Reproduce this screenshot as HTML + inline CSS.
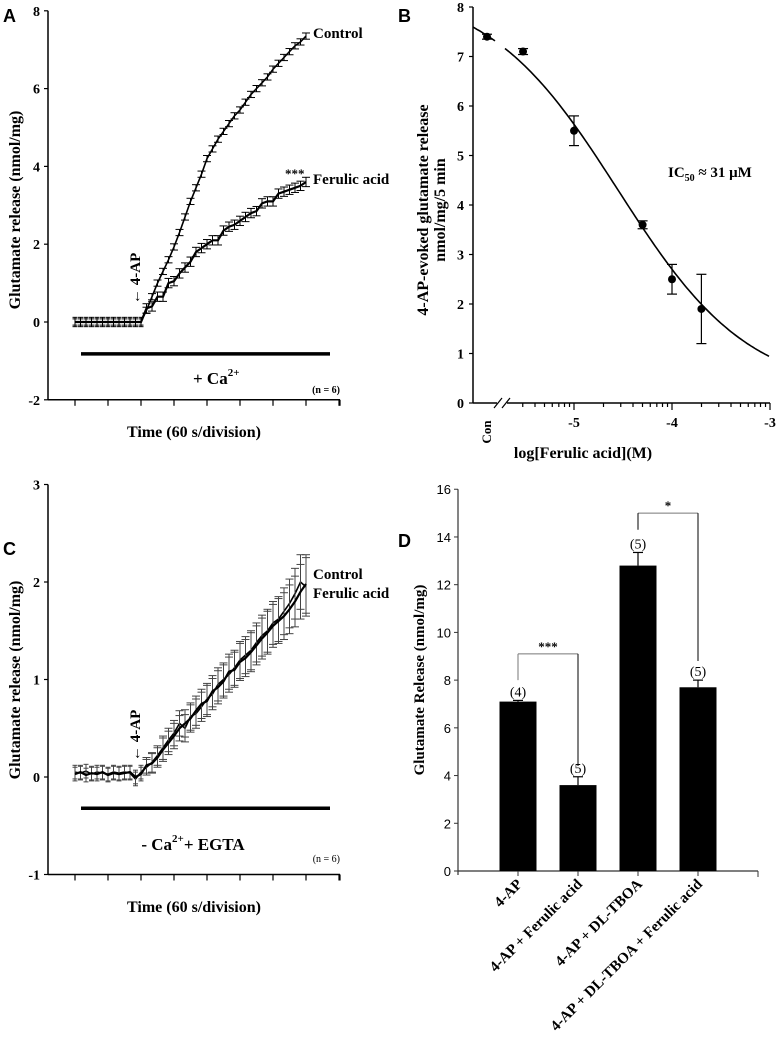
<!DOCTYPE html>
<html><head><meta charset="utf-8"><style>
html,body{margin:0;padding:0;background:#fff}
svg{display:block}
text{font-family:"Liberation Serif",serif;font-weight:bold;fill:#000}
.sans{font-family:"Liberation Sans",sans-serif}
</style></head><body>
<svg id="fig" width="777" height="1059" viewBox="0 0 777 1059" xmlns="http://www.w3.org/2000/svg">
<g id="pA"></g>
<g id="pB"></g>
<g id="pC"></g>
<g id="pD"></g>
</svg>
<script>
// ---- Panel A data ----
const ctrlA = [0,0,0,0,0,0,0,0,0,0,0,0,0,0.3,0.65,1.0,1.3,1.6,1.93,2.3,2.7,3.1,3.45,3.8,4.2,4.45,4.7,4.9,5.1,5.3,5.45,5.65,5.85,6.0,6.15,6.3,6.5,6.65,6.8,6.95,7.1,7.2,7.35];
const ferA = [0,0,0,0,0,0,0,0,0,0,0,0,0,0.35,0.4,0.65,0.65,1.0,1.05,1.25,1.4,1.55,1.8,1.9,2.0,2.1,2.1,2.35,2.45,2.5,2.6,2.7,2.8,2.85,3.05,3.1,3.1,3.3,3.35,3.4,3.45,3.5,3.6];
const errCtrlA = 0.08, errFerA = 0.12;
const yTicksA = [8,6,4,2,0,-2];
// ---- Panel B data ----
const logB = [-5.52,-5.0,-4.3,-4.0,-3.7];
const valB = [7.1,5.5,3.6,2.5,1.9];
const errB = [0.06,0.3,0.08,0.3,0.7];
const conVal = 7.4, conErr = 0.05;
const fitTop = 8.4, fitBottom = 0.2, fitHill = 0.65, fitLogIC = -4.55;
const yTicksB = [0,1,2,3,4,5,6,7,8];
const xTicksB = [-5,-4,-3];
// ---- Panel C data ----
const ctrlC = [0.05,0.04,0.06,0.03,0.05,0.04,0.03,0.05,0.04,0.05,0.04,-0.02,0.05,0.1,0.15,0.22,0.3,0.38,0.45,0.55,0.5,0.62,0.65,0.72,0.8,0.85,0.95,1.0,1.05,1.12,1.2,1.25,1.3,1.38,1.45,1.5,1.58,1.62,1.7,1.78,1.88,2.0,1.95];
const ferC = [0.03,0.05,0.02,0.04,0.03,0.05,0.02,0.04,0.03,0.04,0.05,0.0,0.03,0.12,0.14,0.2,0.28,0.35,0.42,0.5,0.55,0.6,0.68,0.75,0.78,0.88,0.92,0.98,1.08,1.1,1.18,1.22,1.28,1.35,1.42,1.48,1.55,1.6,1.65,1.72,1.8,1.9,1.98];
const errC = [0.07,0.07,0.07,0.07,0.07,0.07,0.07,0.07,0.07,0.07,0.07,0.07,0.07,0.08,0.1,0.1,0.12,0.12,0.13,0.13,0.14,0.14,0.15,0.15,0.16,0.16,0.17,0.17,0.18,0.18,0.19,0.19,0.2,0.2,0.21,0.22,0.22,0.23,0.24,0.25,0.26,0.28,0.3];
const yTicksC = [3,2,1,0,-1];
// ---- Panel D data ----
const catD = ["4-AP","4-AP + Ferulic acid","4-AP + DL-TBOA","4-AP + DL-TBOA + Ferulic acid"];
const valD = [7.1,3.6,12.8,7.7];
const errD = [0.05,0.35,0.55,0.3];
const nD = ["(4)","(5)","(5)","(5)"];
const yTicksD = [0,2,4,6,8,10,12,14,16];

const NS="http://www.w3.org/2000/svg";
function mk(parent,tag,attrs,txt){const e=document.createElementNS(NS,tag);for(const k in attrs)e.setAttribute(k,attrs[k]);if(txt!==undefined)e.textContent=txt;parent.appendChild(e);return e;}
function line(p,x1,y1,x2,y2,w,c){return mk(p,'line',{x1:x1,y1:y1,x2:x2,y2:y2,stroke:c||'#000','stroke-width':w||1});}

// ================= Panel A & C (time courses) =================
function timePanel(g,cfg){
  const X=t=>75+t*33;
  const Y=v=>cfg.y0-v*cfg.ppu;
  const ax=mk(g,'g',{});
  
  
  line(ax,48,Y(cfg.ymax),48,Y(cfg.ymin),1.5);
  cfg.ticks.forEach(v=>{line(ax,44,Y(v),48,Y(v),1.2);
    const t=mk(ax,'text',{x:40,y:Y(v)+5,'text-anchor':'end','font-size':14},String(v));
    
    });
  const xa=mk(g,'g',{});
  
  
  line(xa,48,Y(cfg.ymin),340,Y(cfg.ymin),1.5);
  for(let k=0;k<=8;k++)line(xa,X(k),Y(cfg.ymin),X(k),Y(cfg.ymin)+6,1.2);
  line(xa,340,Y(cfg.ymin),340,Y(cfg.ymin)+6,1.2);
  cfg.series.forEach((s,si)=>{
    const sg=mk(g,'g',{});
    
    
    let d='';
    s.vals.forEach((v,i)=>{const x=X(i/6),y=Y(v);d+=(i?'L':'M')+x.toFixed(1)+' '+y.toFixed(1);
      const e=Array.isArray(s.err)?s.err[i]:s.err;
      const col=s.ecol||'#000';
      const hw=(i<13)?2.5:4;
      line(sg,x,Y(v-e),x,Y(v+e),1,col);
      line(sg,x-hw,Y(v+e),x+hw,Y(v+e),1,col);
      line(sg,x-hw,Y(v-e),x+hw,Y(v-e),1,col);});
    mk(sg,'path',{d:d,fill:'none',stroke:'#000','stroke-width':s.w});
  });
}
function T(g,x,y,s,fs,extra,name){const e=mk(g,'text',Object.assign({x:x,y:y,'font-size':fs},extra||{}),s);return e;}
// Panel A
(function(){
  const g=document.getElementById('pA');
  timePanel(g,{y0:322,ppu:38.9,ymax:8,ymin:-2,ticks:yTicksA,series:[
    {name:'control-series',vals:ctrlA,err:errCtrlA,w:1.6},
    {name:'ferulic-acid-series',vals:ferA,err:errFerA,w:2.2}]});
  const Y=v=>322-v*38.9;
  T(g,3,22,'A',18,{class:'sans'},'panel-label');
  T(g,313,38,'Control',15,{},'control-label');
  T(g,313,184,'Ferulic acid',15,{},'ferulic-acid-label');
  T(g,285,178,'***',13,{fill:'#555'},'significance-stars');
  const bar=line(g,81,Y(-0.82),330,Y(-0.82),3.5);
  
  const ca=T(g,193,384,'+ Ca',17,{},'condition-label');
  mk(ca,'tspan',{dy:-8,'font-size':11},'2+');
  T(g,340,393,'(n = 6)',10,{'text-anchor':'end'},'n-label');
  T(g,20,210,'Glutamate release (nmol/mg)',16,{'text-anchor':'middle',transform:'rotate(-90 20 210)'},'y-axis-title');
  T(g,194,437,'Time (60 s/division)',16,{'text-anchor':'middle'},'x-axis-title');
  T(g,140,304,'← 4-AP',15,{transform:'rotate(-90 140 304)'},'4-ap-marker');
})();
// Panel C
(function(){
  const g=document.getElementById('pC');
  timePanel(g,{y0:777,ppu:97.5,ymax:3,ymin:-1,ticks:yTicksC,series:[
    {name:'control-series',vals:ctrlC,err:errC,w:1.6,ecol:'#444'},
    {name:'ferulic-acid-series',vals:ferC,err:errC,w:2.2,ecol:'#444'}]});
  const Y=v=>777-v*97.5;
  T(g,3,555,'C',18,{class:'sans'},'panel-label');
  T(g,313,579,'Control',15,{},'control-label');
  T(g,313,598,'Ferulic acid',15,{},'ferulic-acid-label');
  const bar=line(g,81,Y(-0.32),330,Y(-0.32),3.5);
  
  const ca=T(g,193,850,'- Ca',17,{'text-anchor':'middle'},'condition-label');
  mk(ca,'tspan',{dy:-8,'font-size':11},'2+');
  mk(ca,'tspan',{dy:8,'font-size':17},'+ EGTA');
  T(g,340,862,'(n = 6)',10,{'text-anchor':'end',style:'font-weight:normal'},'n-label');
  T(g,20,680,'Glutamate release (nmol/mg)',16,{'text-anchor':'middle',transform:'rotate(-90 20 680)'},'y-axis-title');
  T(g,194,912,'Time (60 s/division)',16,{'text-anchor':'middle'},'x-axis-title');
  T(g,140,761,'← 4-AP',15,{transform:'rotate(-90 140 761)'},'4-ap-marker');
})();

// ================= Panel B =================
(function(){
  const g=document.getElementById('pB');
  const X=l=>574+(l+5)*98;
  const Y=v=>403-v*49.5;
  const conX=487;
  T(g,398,22,'B',18,{class:'sans'},'panel-label');
  const ya=mk(g,'g',{});
  line(ya,473,Y(8),473,Y(0),1.5);
  yTicksB.forEach(v=>{line(ya,469,Y(v),473,Y(v),1.2);
    const e=mk(ya,'text',{x:464,y:Y(v)+5,'text-anchor':'end','font-size':14},String(v));
    });
  const xa=mk(g,'g',{});
  line(xa,473,Y(0),497,Y(0),1.5);line(xa,507,Y(0),770,Y(0),1.5);
  line(xa,494,Y(0)+5,502,Y(0)-5,1.2);line(xa,502,Y(0)+5,510,Y(0)-5,1.2);
  for(let dec=-6;dec<-3;dec++){for(let m=1;m<10;m++){const l=dec+Math.log10(m);if(l<-5.55)continue;
    const major=(m===1);line(xa,X(l),Y(0),X(l),Y(0)+(major?7:4),1.2);}}
  line(xa,X(-3),Y(0),X(-3),Y(0)+7,1.2);
  xTicksB.forEach(v=>{const e=mk(xa,'text',{x:X(v),y:427,'text-anchor':'middle','font-size':14},String(v));
    });
  T(g,487,436,'Con',13,{'text-anchor':'middle',transform:'rotate(-90 487 432)',x:487,y:436},'con-tick-label');
  const f=l=>fitBottom+(fitTop-fitBottom)/(1+Math.pow(10,(l-fitLogIC)*fitHill));
  let d1='',d2='';
  for(let px=473;px<=770;px+=2){const l=(px-574)/98-5;const y=Y(f(l)).toFixed(1);
    if(px<=495)d1+=(d1?'L':'M')+px+' '+y;else if(px>=505)d2+=(d2?'L':'M')+px+' '+y;}
  const c=mk(g,'path',{d:d1+d2,fill:'none',stroke:'#000','stroke-width':1.6});
  
  const pts=mk(g,'g',{});
  const pt=(x,v,e)=>{line(pts,x,Y(v-e),x,Y(v+e),1.2);line(pts,x-5,Y(v+e),x+5,Y(v+e),1.2);line(pts,x-5,Y(v-e),x+5,Y(v-e),1.2);
    mk(pts,'circle',{cx:x,cy:Y(v),r:4,fill:'#000'});};
  pt(conX,conVal,conErr);
  logB.forEach((l,i)=>pt(X(l),valB[i],errB[i]));
  const ic=T(g,668,177,'IC',15,{},'ic50-label');
  mk(ic,'tspan',{dy:4,'font-size':10},'50');
  mk(ic,'tspan',{dy:-4,'font-size':15},' ≈ 31 μM');
  T(g,428,210,'4-AP-evoked glutamate release',16,{'text-anchor':'middle',transform:'rotate(-90 428 210)'},'y-axis-title');
  T(g,445,210,'nmol/mg/5 min',16,{'text-anchor':'middle',transform:'rotate(-90 445 210)'},'y-axis-title-line2');
  T(g,583,458,'log[Ferulic acid](M)',16,{'text-anchor':'middle'},'x-axis-title');
})();

// ================= Panel D =================
(function(){
  const g=document.getElementById('pD');
  const Y=v=>871-v*23.86;
  const X=i=>518+i*60;
  T(g,398,547,'D',18,{class:'sans'},'panel-label');
  const ya=mk(g,'g',{});
  line(ya,458,Y(16),458,Y(0)+4,1.2,'#333');
  yTicksD.forEach(v=>{line(ya,454,Y(v),458,Y(v),1,'#333');
    const e=mk(ya,'text',{x:451,y:Y(v)+5,'text-anchor':'end','font-size':13,class:'sans',style:'font-weight:normal'},String(v));
    });
  const xa=mk(g,'g',{});
  line(xa,458,Y(0),758,Y(0),1.2,'#333');line(xa,758,Y(0),758,Y(0)+6,1,'#333');
  catD.forEach((c,i)=>{
    const bg=mk(g,'g',{});
    mk(bg,'rect',{x:X(i)-18.5,y:Y(valD[i]),width:37,height:Y(0)-Y(valD[i]),fill:'#000'});
    line(bg,X(i),Y(valD[i]),X(i),Y(valD[i]+errD[i]),1.2);
    line(bg,X(i)-5,Y(valD[i]+errD[i]),X(i)+5,Y(valD[i]+errD[i]),1.2);
    line(xa,X(i),Y(0),X(i),Y(0)+5,1,'#333');
    const n=mk(g,'text',{x:X(i),y:Y(valD[i]+errD[i])-4,'text-anchor':'middle','font-size':14,style:'font-weight:normal'},nD[i]);
    
    const xl=mk(g,'text',{x:X(i)+5,y:885,'text-anchor':'end','font-size':15,transform:'rotate(-45 '+(X(i)+5)+' 885)'},c);
    
  });
  const br=mk(g,'g',{});
  line(br,X(0),Y(9.1),X(1),Y(9.1),1,'#777');line(br,X(0),Y(9.1),X(0),Y(8.0),1,'#777');line(br,X(1),Y(9.1),X(1),Y(4.4),1);
  T(g,(X(0)+X(1))/2,Y(9.1)-3,'***',13,{'text-anchor':'middle',fill:'#555'},'stars-1');
  line(br,X(2),Y(15),X(3),Y(15),1,'#777');line(br,X(2),Y(15),X(2),Y(14.3),1);line(br,X(3),Y(15),X(3),Y(8.8),1);
  T(g,(X(2)+X(3))/2,Y(15)-3,'*',13,{'text-anchor':'middle',fill:'#555'},'stars-2');
  T(g,424,680,'Glutamate Release (nmol/mg)',15,{'text-anchor':'middle',transform:'rotate(-90 424 680)'},'y-axis-title');
})();
</script>
</body></html>
